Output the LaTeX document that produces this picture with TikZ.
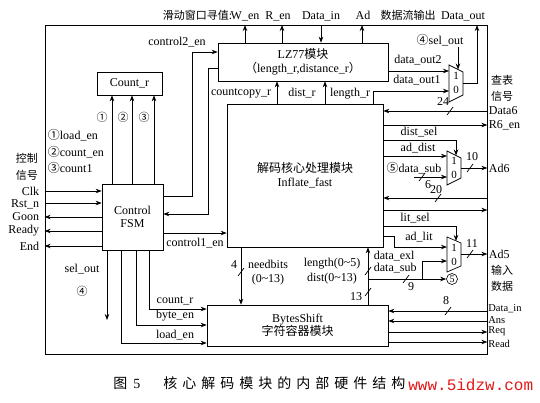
\documentclass[tikz,border=0pt]{standalone}
\usepackage{fontspec}
\setmainfont{Liberation Serif}
\newfontfamily\cjk{Noto Sans CJK SC}
\newfontfamily\monof{Liberation Mono}
\usetikzlibrary{arrows.meta,calc}
\definecolor{wm}{RGB}{225,25,25}
\newcommand\myslash[1]{\draw ($(#1)+(-3,4)$) -- ($(#1)+(3,-4)$);}
\begin{document}
\begin{tikzpicture}[x=1pt,y=-1pt,font=\fontsize{12}{13}\selectfont,
  line width=0.7pt,
  arr/.style={-{Stealth[length=6pt,width=4.5pt]}},
  box/.style={draw,inner sep=0pt,anchor=center},
  lbl/.style={inner sep=0.5pt},
  rlbl/.style={inner sep=0pt,anchor=west,font=\fontsize{10.5}{11}\selectfont},
  zh/.style={inner sep=0.5pt,font=\cjk\fontsize{11}{12}\selectfont},
  mx/.style={inner sep=0pt,font=\fontsize{11}{11}\selectfont}]
\useasboundingbox (0,0) rectangle (540,402);
\fill[white] (0,0) rectangle (540,402);

% frame and boxes
\node[box,minimum width=442pt,minimum height=329pt] (frame) at (266,189.5) {};
\node[box,minimum width=170pt,minimum height=38pt,align=center] (lz) at (303,62)
  {LZ77{\cjk 模块}\\[1pt]{\cjk （}length\_r,distance\_r{\cjk ）}};
\node[box,minimum width=65pt,minimum height=23pt] (cnt) at (129.5,83.5) {Count\_r};
\node[box,minimum width=61pt,minimum height=66pt,align=center] (fsm) at (132.5,217) {Control\\FSM};
\node[box,minimum width=156pt,minimum height=143pt,align=center] (core) at (305,175.5)
  {{\cjk 解码核心处理模块}\\[1pt]Inflate\_fast};
\node[box,minimum width=181pt,minimum height=41pt,align=center] (bs) at (297.5,325.5)
  {BytesShift\\{\cjk 字符容器模块}};

% muxes
\draw (449,65) -- (463,72) -- (463,95) -- (449,102) -- cycle;
\node[mx] at (456,76) {1}; \node[mx] at (456,90) {0};
\coordinate (m1a) at (449,71); \coordinate (m1b) at (449,91);
\coordinate (m1s) at (458,69.5); \coordinate (m1o) at (463,83.5);
\draw (447,151) -- (461,158) -- (461,178) -- (447,185) -- cycle;
\node[mx] at (454,161) {1}; \node[mx] at (454,175) {0};
\coordinate (m2a) at (447,156); \coordinate (m2b) at (447,177);
\coordinate (m2s) at (456,155.5); \coordinate (m2o) at (461,168);
\draw (447,237) -- (461,243) -- (461,266) -- (447,272) -- cycle;
\node[mx] at (454,248) {1}; \node[mx] at (454,262) {0};
\coordinate (m3a) at (447,247); \coordinate (m3b) at (447,261);
\coordinate (m3s) at (456,241); \coordinate (m3o) at (461,254);
\node[circle,draw,line width=0.6pt,inner sep=0.8pt,minimum size=11pt,font=\fontsize{10}{10}\selectfont] (c5) at (452,279) {5};

% top arrows and labels
\coordinate (tW) at (245,25); \draw[arr] (lz.north -| tW) -- (tW);
\coordinate (tR) at (282,25); \draw[arr] (lz.north -| tR) -- (tR);
\coordinate (tD) at (321,25); \draw[arr] (tD) -- (lz.north -| tD);
\coordinate (tA) at (362,25); \draw[arr] (lz.north -| tA) -- (tA);
\coordinate (tO) at (477,25); \draw[arr] (m1o) -- (m1o -| tO) -- (tO);
\node[lbl,anchor=base east] (tl0) at (233,19) {{\cjk\fontsize{11}{12}\selectfont 滑动窗口寻值}:};
\node[lbl,anchor=base] (tl1) at (245,19) {W\_en};
\node[lbl,anchor=base] (tl2) at (278,19) {R\_en};
\node[lbl,anchor=base] (tl3) at (321,19) {Data\_in};
\node[lbl,anchor=base] (tl4) at (363,19) {Ad};
\node[zh,anchor=base] (tl5) at (408,19) {数据流输出};
\node[lbl,anchor=base] (tl6) at (463,19) {Data\_out};

% control2_en and LZ77 -> FSM
\coordinate (c2a) at (192,196); \coordinate (c2) at (192,52);
\draw[arr] (fsm.east |- c2a) -- (c2a) -- (c2) -- (lz.west |- c2);
\node[lbl] (l1) at (177,42) {control2\_en};
\coordinate (lf) at (208,68); \coordinate (lf2) at (208,214);
\draw[arr] (lz.west |- lf) -- (lf) -- (lf2) -- (fsm.east |- lf2);

% control1_en
\coordinate (c1) at (195,233);
\draw[arr] (fsm.east |- c1) -- (core.west |- c1);
\node[lbl] (l2) at (195,243) {control1\_en};

% FSM -> Count_r
\coordinate (k1) at (112,100); \coordinate (k2) at (132,100); \coordinate (k3) at (154,100);
\draw[arr] (fsm.north -| k1) -- (cnt.south -| k1);
\draw[arr] (fsm.north -| k2) -- (cnt.south -| k2);
\draw[arr] (fsm.north -| k3) -- (cnt.south -| k3);
\node[zh] (n1) at (102,117) {①};
\node[zh] (n2) at (123,117) {②};
\node[zh] (n3) at (144,117) {③};
\node[lbl,anchor=west] (l3) at (47,135) {{\cjk ①}load\_en};
\node[lbl,anchor=west] (l4) at (47,152) {{\cjk ②}count\_en};
\node[lbl,anchor=west] (l5) at (47,168) {{\cjk ③}count1};
\node[zh] (l6) at (27,158) {控制};
\node[zh] (l7) at (27,175) {信号};

% left signals
\coordinate (sA) at (45,191); \draw[arr] (frame.west |- sA) -- (fsm.west |- sA);
\coordinate (sB) at (45,203); \draw[arr] (frame.west |- sB) -- (fsm.west |- sB);
\coordinate (sC) at (45,217); \draw[arr] (fsm.west |- sC) -- (frame.west |- sC);
\coordinate (sD) at (45,231); \draw[arr] (fsm.west |- sD) -- (frame.west |- sD);
\coordinate (sE) at (45,246); \draw[arr] (fsm.west |- sE) -- (frame.west |- sE);
\node[lbl,anchor=east] (la) at (40,191) {Clk};
\node[lbl,anchor=east] (lb) at (40,204) {Rst\_n};
\node[lbl,anchor=east] (lc) at (40,217) {Goon};
\node[lbl,anchor=east] (ld) at (40,231) {Ready};
\node[lbl,anchor=east] (le) at (40,246) {End};

% FSM bottom
\coordinate (b1) at (107,320); \draw[arr] (fsm.south -| b1) -- (b1);
\coordinate (b2) at (121,343); \draw[arr] (fsm.south -| b2) -- (b2) -- (bs.west |- b2);
\coordinate (b3) at (136,325); \draw[arr] (fsm.south -| b3) -- (b3) -- (bs.west |- b3);
\coordinate (b4) at (149,309); \draw[arr] (fsm.south -| b4) -- (b4) -- (bs.west |- b4);
\node[lbl] (l8) at (82,269) {sel\_out};
\node[zh] (l9) at (82,291) {④};
\node[lbl] (l10) at (175,301) {count\_r};
\node[lbl] (l11) at (175,316) {byte\_en};
\node[lbl] (l12) at (175,335) {load\_en};

% core -> LZ77
\coordinate (cc) at (277,90); \draw[arr] (core.north -| cc) -- (lz.south -| cc);
\coordinate (dr) at (325,90); \draw[arr] (core.north -| dr) -- (lz.south -| dr);
\node[lbl] (l13) at (241,93) {countcopy\_r};
\node[lbl] (l14) at (302,93) {dist\_r};
\node[lbl] (l15) at (350,94) {length\_r};
\coordinate (lr) at (373,91);
\draw[arr] (core.north -| lr) -- (lr) -- (m1b);
\draw[arr] (lz.east |- m1a) -- (m1a);
\node[lbl] (l16) at (418,60) {data\_out2};
\node[lbl] (l17) at (417,80) {data\_out1};
\coordinate (so) at (458,47); \draw[arr] (so) -- (m1s);
\node[lbl] (l18) at (440,40) {{\cjk ④}sel\_out};
\node[zh] (l19) at (502,80) {查表};
\node[zh] (l20) at (502,96) {信号};

% right side of core
\coordinate (r1) at (487,111); \draw[arr] (frame.east |- r1) -- (core.east |- r1);
\myslash{450,111} \node[lbl] (l21) at (443,102) {24};
\node[lbl,anchor=west] (l22) at (488,111) {Data6};
\coordinate (r2) at (487,125); \draw[arr] (core.east |- r2) -- (frame.east |- r2);
\node[lbl,anchor=west] (l23) at (488,125) {R6\_en};
\coordinate (ds) at (456,140); \draw[arr] (core.east |- ds) -- (ds) -- (m2s);
\node[lbl] (l24) at (419,132) {dist\_sel};
\draw[arr] (core.east |- m2a) -- (m2a);
\node[lbl] (l25) at (418,148) {ad\_dist};
\node[lbl] (l26) at (414,168) {{\cjk ⑤}data\_sub};
\coordinate (s6) at (414,177); \draw[arr] (s6) -- (m2b);
\myslash{422,177} \node[lbl] (l27) at (428,185) {6};
\draw[arr] (m2o) -- (frame.east |- m2o);
\myslash{470,168} \node[lbl] (l28) at (472,157) {10};
\node[lbl,anchor=west] (l29) at (488,168) {Ad6};
\coordinate (r3) at (487,198); \draw[arr] (frame.east |- r3) -- (core.east |- r3);
\myslash{438,198} \node[lbl] (l30) at (436,190) {20};
\coordinate (r4) at (487,210); \draw[arr] (core.east |- r4) -- (frame.east |- r4);
\coordinate (ls) at (456,226); \draw[arr] (core.east |- ls) -- (ls) -- (m3s);
\node[lbl] (l31) at (415,218) {lit\_sel};
\coordinate (al) at (394,236); \draw[arr] (core.east |- al) -- (al) -- (al |- m3a) -- (m3a);
\node[lbl] (l32) at (419,237) {ad\_lit};
\coordinate (dx) at (422,261); \draw[arr] (dx |- c5) -- (dx) -- (m3b);
\coordinate (bj) at (368,279); \draw[arr] (bj) -- (c5.west);
\myslash{406,279} \node[lbl] (l33) at (411,287) {9};
\node[lbl,anchor=west] (l34) at (373,256) {data\_exl};
\node[lbl,anchor=west] (l35) at (373,268) {data\_sub};
\draw[arr] (m3o) -- (frame.east |- m3o);
\myslash{470,254} \node[lbl] (l36) at (472,244) {11};
\node[lbl,anchor=west] (l37) at (488,254) {Ad5};
\node[zh] (l38) at (502,270) {输入};
\node[zh] (l39) at (502,286) {数据};

% bus between core and BytesShift
\draw[arr] (bs.north -| bj) -- (core.south -| bj);
\myslash{368,271} \myslash{368,292}
\node[lbl] (l40) at (356,297) {13};
\node[lbl] (l41) at (332,264) {length(0\textasciitilde5)};
\node[lbl] (l42) at (332,279) {dist(0\textasciitilde13)};
\coordinate (nb) at (241,270); \draw[arr] (core.south -| nb) -- (bs.north -| nb);
\myslash{241,272}
\node[lbl] (l43) at (234,265) {4};
\node[lbl] (l44) at (268,264) {needbits};
\node[lbl] (l45) at (268,280) {(0\textasciitilde13)};

% BytesShift right
\coordinate (q1) at (487,311); \draw[arr] (frame.east |- q1) -- (bs.east |- q1);
\myslash{448,311} \node[lbl] (l46) at (446,301) {8};
\coordinate (q2) at (487,321); \draw[arr] (frame.east |- q2) -- (bs.east |- q2);
\coordinate (q3) at (487,332); \draw[arr] (bs.east |- q3) -- (frame.east |- q3);
\coordinate (q4) at (487,342); \draw[arr] (bs.east |- q4) -- (frame.east |- q4);
\node[rlbl] (l47) at (488,309) {Data\_in};
\node[rlbl] (l48) at (488,320) {Ans};
\node[rlbl] (l49) at (488,331.5) {Req};
\node[rlbl] (l50) at (488,343.5) {Read};

% caption
\node[anchor=base west,inner sep=0pt,font=\fontsize{14}{14}\selectfont] (cap1) at (113,388)
  {{\cjk 图}\hspace{6pt}5};
\node[anchor=base west,inner sep=0pt,font=\cjk\fontsize{14}{14}\selectfont] (cap2) at (163,388)
  {核\hspace{5pt}心\hspace{5pt}解\hspace{5pt}码\hspace{5pt}模\hspace{5pt}块\hspace{5pt}的\hspace{5pt}内\hspace{5pt}部\hspace{5pt}硬\hspace{5pt}件\hspace{5pt}结\hspace{5pt}构};
\node[anchor=base west,inner sep=0pt,text=wm,font=\monof\fontsize{16}{16}\selectfont] (wmk) at (408,390) {www.5idzw.com};
\end{tikzpicture}
\end{document}
